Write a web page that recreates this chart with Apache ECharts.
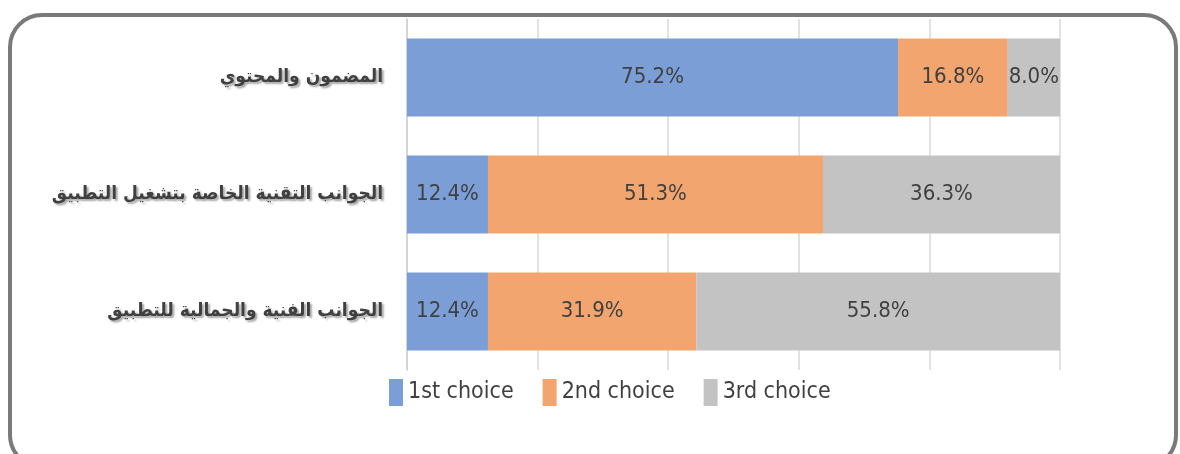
<!DOCTYPE html>
<html>
<head>
<meta charset="utf-8">
<script src="https://cdn.jsdelivr.net/npm/echarts@6/dist/echarts.min.js"></script>
<style>
  html, body { margin: 0; padding: 0; background: #fff; }
  #chart { width: 1180px; height: 454px; }
</style>
</head>
<body>
<div id="chart"></div>
<script>
// categories, top to bottom
var categories = ['المضمون والمحتوي', 'الجوانب التقنية الخاصة بتشغيل التطبيق', 'الجوانب الفنية والجمالية للتطبيق']
var seriesNames = ['1st choice', '2nd choice', '3rd choice']
var first = [75.2, 12.4, 12.4]
var second = [16.8, 51.3, 31.9]
var third = [8.0, 36.3, 55.8]
var colors = ['#7b9ed7', '#f2a56f', '#c3c3c3']

var labelFont = '"Liberation Sans Narrow", "DejaVu Sans Condensed", "Liberation Sans", sans-serif'

function makeSeries(name, data, color) {
  return {
    name: name,
    type: 'bar',
    stack: 'total',
    barWidth: 78,
    data: data,
    itemStyle: { color: color },
    label: {
      show: true,
      position: 'inside',
      color: '#404040',
      fontSize: 22,
      fontFamily: labelFont,
      formatter: function (p) { return p.value.toFixed(1) + '%' }
    }
  }
}

var myChart = echarts.init(document.getElementById('chart'))
var option = {
  animation: false,
  color: colors,
  graphic: [{
    type: 'rect',
    shape: { x: 10, y: 15, width: 1166, height: 452, r: 32 },
    style: { fill: 'none', stroke: '#7a7a7a', lineWidth: 4 },
    z: 0
  }],
  legend: {
    data: seriesNames,
    top: 374,
    left: 384,
    itemWidth: 14,
    itemHeight: 27,
    itemGap: 29,
    icon: 'rect',
    textStyle: { color: '#404040', fontSize: 23, fontFamily: labelFont }
  },
  grid: { left: 407, right: 120, top: 19, bottom: 84, containLabel: false, outerBoundsMode: 'none' },
  xAxis: {
    type: 'value',
    min: 0,
    max: 100,
    interval: 20,
    axisLabel: { show: false },
    axisLine: { show: false },
    axisTick: { show: false },
    splitLine: { lineStyle: { color: '#d9d9d9', width: 1.5 } }
  },
  yAxis: {
    type: 'category',
    inverse: true,
    data: categories,
    axisLine: { show: true, lineStyle: { color: '#d0d0d0', width: 1.5 } },
    axisTick: { show: false },
    axisLabel: {
      margin: 24,
      color: '#404040',
      fontSize: 19,
      fontWeight: 'bold',
      fontFamily: '"DejaVu Sans Condensed", "DejaVu Sans", sans-serif',
      textShadowColor: 'rgba(0,0,0,0.35)',
      textShadowOffsetX: 2,
      textShadowOffsetY: 2,
      textShadowBlur: 2
    }
  },
  series: [
    makeSeries(seriesNames[0], first, colors[0]),
    makeSeries(seriesNames[1], second, colors[1]),
    makeSeries(seriesNames[2], third, colors[2])
  ]
}
myChart.setOption(option)
</script>
</body>
</html>
